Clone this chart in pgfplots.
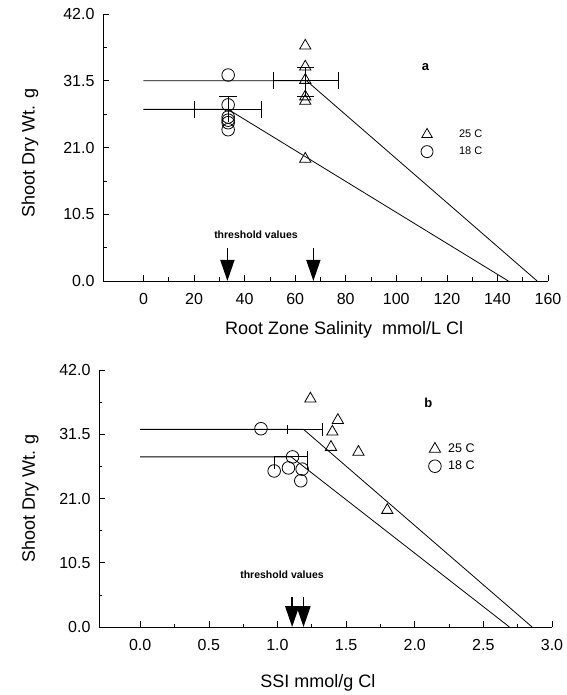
\documentclass[border=0pt]{standalone}
\usepackage{pgfplots}
\pgfplotsset{compat=1.18}
\usepackage{fontspec}
\setmainfont{Liberation Sans}
\usetikzlibrary{arrows.meta}

\tikzset{
  thr/.style={-{Triangle[length=21pt,width=14pt]}, line width=1.5pt, black},
}
\pgfplotsset{
  panel/.style={
    scale only axis,
    clip=false,
    axis x line*=bottom, axis y line*=left,
    ymin=0, ymax=42, ytick={0,10.5,21,31.5,42},
    tick align=inside, major tick length=6pt, minor tick length=3.5pt,
    minor x tick num=1, minor y tick num=1,
    tick style={black, line width=0.6pt},
    axis line style={black, line width=0.9pt},
    ticklabel style={font=\fontsize{16}{16}\selectfont},
    xticklabel style={yshift=-9pt},
    yticklabel style={xshift=-5pt, /pgf/number format/fixed,
      /pgf/number format/fixed zerofill, /pgf/number format/precision=1},
    label style={font=\fontsize{18}{18}\selectfont},
    /pgf/number format/assume math mode=true,
    legend style={draw=none, fill=none, inner sep=1pt},
    legend cell align=left,
  },
  tri/.style={only marks, mark=triangle, mark size=6.5pt, black, line width=0.8pt},
  cir/.style={only marks, mark=o, mark size=6.3pt, black, line width=0.8pt},
  fit/.style={black, line width=0.8pt, no marks},
}

\begin{document}
\begin{tikzpicture}
\useasboundingbox (-103pt,-414pt) rectangle (463pt,281pt);

% ---- panel a
\begin{axis}[panel,
  at={(0pt,0pt)}, anchor=south west,
  width=445pt, height=267pt,
  xmin=-16, xmax=160, xtick={0,20,...,160},
  xlabel={Root Zone Salinity\ \ mmol/L Cl},
  ylabel={Shoot Dry Wt. g},
  xlabel style={at={(axis description cs:0.542,-0.184)}, anchor=center},
  ylabel style={at={(axis description cs:-0.164,0.48)}, anchor=center},
  legend style={at={(axis description cs:0.712,0.578)}, anchor=north west,
    font=\fontsize{11}{11}\selectfont, column sep=24pt, row sep=4pt},
  legend image post style={mark size=6pt},
]
\addplot[tri] coordinates {(64,37.0) (64,33.7) (64,31.6) (64,29.0) (64,28.3) (64,19.2)};
\addlegendentry{25 C}
\addplot[cir] coordinates {(33.5,32.4) (33.5,27.7) (33.5,25.8) (33.5,25.3) (33.5,24.9) (33.5,23.8)};
\addlegendentry{18 C}
% segmented fits
\addplot[fit, forget plot] coordinates {(0,31.5) (64.5,31.5) (155.7,0)};
\addplot[fit, forget plot] coordinates {(0,27.0) (33.5,27.0) (144.3,0)};
% threshold error bars
\addplot[fit, forget plot] coordinates {(51.4,31.5) (77,31.5)};
\addplot[fit, forget plot] coordinates {(51.4,30.2) (51.4,32.8)};
\addplot[fit, forget plot] coordinates {(77,30.2) (77,32.8)};
\addplot[fit, forget plot] coordinates {(20.2,27.0) (46.6,27.0)};
\addplot[fit, forget plot] coordinates {(20.2,25.7) (20.2,28.3)};
\addplot[fit, forget plot] coordinates {(46.6,25.7) (46.6,28.3)};
% y error bars of means
\addplot[fit, thin, forget plot] coordinates {(64,33.7) (64,29.0)};
\addplot[fit, thin, forget plot] coordinates {(60.7,33.7) (67.3,33.7)};
\addplot[fit, thin, forget plot] coordinates {(60.7,29.0) (67.3,29.0)};
\addplot[fit, thin, forget plot] coordinates {(33.5,29.0) (33.5,25.0)};
\addplot[fit, thin, forget plot] coordinates {(30,29.0) (37,29.0)};
% threshold arrows
\draw[thr] (axis cs:33.2,5.2) -- (axis cs:33.2,0);
\draw[thr] (axis cs:67.2,5.2) -- (axis cs:67.2,0);
\node[font=\fontsize{10.5}{10.5}\selectfont\bfseries] at (axis cs:44.5,7.2) {threshold values};
\node[font=\fontsize{13}{13}\selectfont\bfseries] at (axis cs:111.5,33.7) {a};
\end{axis}

% ---- panel b
\begin{axis}[panel,
  at={(-4pt,-346pt)}, anchor=south west,
  width=453pt, height=257pt,
  xmin=-0.3, xmax=3.0, xtick={0,0.5,...,3.0},
  xticklabel style={/pgf/number format/fixed,
    /pgf/number format/fixed zerofill, /pgf/number format/precision=1},
  xlabel={SSI mmol/g Cl},
  ylabel={Shoot Dry Wt. g},
  xlabel style={at={(axis description cs:0.483,-0.218)}, anchor=center},
  ylabel style={at={(axis description cs:-0.152,0.5)}, anchor=center},
  legend style={at={(axis description cs:0.725,0.725)}, anchor=north west,
    font=\fontsize{12.5}{12.5}\selectfont, column sep=5pt, row sep=3pt},
]
\addplot[tri] coordinates {(1.24,37.3) (1.44,33.8) (1.40,31.9) (1.39,29.4) (1.59,28.6) (1.80,19.1)};
\addlegendentry{25 C}
\addplot[cir] coordinates {(0.88,32.4) (0.976,25.5) (1.08,26.0) (1.11,27.8) (1.18,25.8) (1.17,23.9)};
\addlegendentry{18 C}
\addplot[fit, forget plot] coordinates {(0,32.3) (1.19,32.3) (2.855,0)};
\addplot[fit, forget plot] coordinates {(0,27.8) (1.10,27.8) (2.69,0)};
\addplot[fit, forget plot] coordinates {(1.07,32.3) (1.33,32.3)};
\addplot[fit, thin, forget plot] coordinates {(1.07,31.6) (1.07,33.0)};
\addplot[fit, forget plot] coordinates {(1.33,31.2) (1.33,33.4)};
\addplot[fit, forget plot] coordinates {(0.976,27.8) (1.22,27.8)};
\addplot[fit, forget plot] coordinates {(0.976,25.8) (0.976,27.8)};
\addplot[fit, forget plot] coordinates {(1.22,25.8) (1.22,28.8)};
\draw[thr] (axis cs:1.107,4.9) -- (axis cs:1.107,0);
\draw[thr] (axis cs:1.19,4.9) -- (axis cs:1.19,0);
\node[font=\fontsize{10.5}{10.5}\selectfont\bfseries] at (axis cs:1.033,8.5) {threshold values};
\node[font=\fontsize{13}{13}\selectfont\bfseries] at (axis cs:2.10,36.7) {b};
\end{axis}
\end{tikzpicture}
\end{document}
